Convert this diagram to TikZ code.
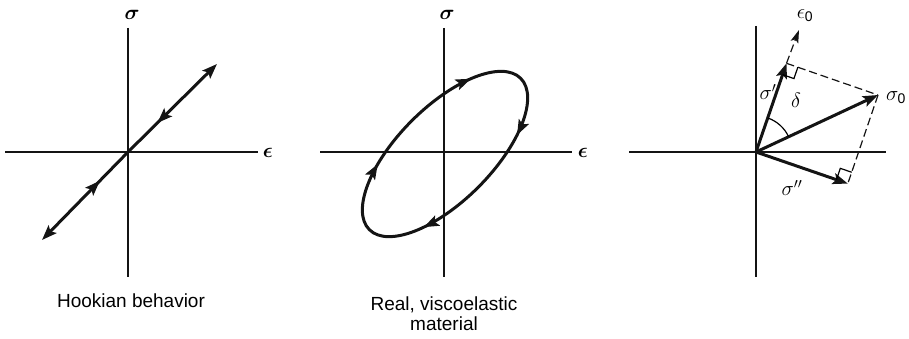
\documentclass[tikz,border=0pt]{standalone}
\usepackage{fontspec}
\setmainfont{Liberation Sans}
\usepackage{amsmath}
\usepackage{tikz}
\usetikzlibrary{arrows.meta, calc, decorations.markings}
\definecolor{inkblack}{RGB}{20,20,20}
\tikzset{
  axis/.style={line width=1.4pt, color=inkblack},
  curve/.style={line width=3pt, color=inkblack},
  vec/.style={line width=3pt, color=inkblack, -{Stealth[length=15pt, width=11pt, inset=3pt]}},
  guide/.style={line width=1.2pt, color=inkblack, dash pattern=on 8pt off 4pt},
  tip/.style={-{Stealth[length=15pt, width=11pt, inset=3pt]}},
  midtip/.style={postaction={decorate}, decoration={markings,
    mark=at position #1 with {\arrow{Stealth[length=15pt, width=11pt, inset=3pt, reversed]}}}},
  looptips/.style={postaction={decorate}, decoration={markings,
    mark=at position 0.12 with {\arrow{Stealth[length=15pt, width=11pt, inset=3pt]}},
    mark=at position 0.385 with {\arrow{Stealth[length=15pt, width=11pt, inset=3pt]}},
    mark=at position 0.64 with {\arrow{Stealth[length=15pt, width=11pt, inset=3pt]}},
    mark=at position 0.895 with {\arrow{Stealth[length=15pt, width=11pt, inset=3pt]}}}},
  sym/.style={inner sep=0pt, font=\fontsize{21}{23}\selectfont},
  capt/.style={inner sep=0pt, align=center, font=\fontsize{19}{20}\selectfont},
}

\begin{document}
\begin{tikzpicture}[x=1pt, y=-1pt]
  \useasboundingbox (0,0) rectangle (909,339);

  % Hookian behavior
  \coordinate (hO) at (128,152);
  \coordinate (hW) at (5,152);
  \coordinate (hE) at (258,152);
  \coordinate (hN) at (128,28);
  \coordinate (hS) at (128,277);
  \coordinate (hHi) at (217,64);
  \coordinate (hLo) at (42,240);
  \draw[axis] (hW) -- (hE);
  \draw[axis] (hN) -- (hS);
  \draw[curve, tip, midtip=0.45] (hO) -- (hHi);
  \draw[curve, tip, midtip=0.45] (hO) -- (hLo);
  \node[sym] (hsig) at (132,15) {$\boldsymbol{\sigma}$};
  \node[sym] (heps) at (268,153) {$\boldsymbol{\epsilon}$};
  \node[capt, anchor=base] (hcap) at (131,307) {Hookian behavior};

  % viscoelastic loop
  \coordinate (vO) at (444,152);
  \coordinate (vW) at (320,152);
  \coordinate (vE) at (572,152);
  \coordinate (vN) at (444,28);
  \coordinate (vS) at (444,277);
  \coordinate (vC) at (445,154);
  \draw[axis] (vW) -- (vE);
  \draw[axis] (vN) -- (vS);
  \draw[curve, looptips, rotate around={45:(vC)}]
    (vC) ellipse [x radius=107, y radius=47];
  \node[sym] (vsig) at (447,15) {$\boldsymbol{\sigma}$};
  \node[sym] (veps) at (583,153) {$\boldsymbol{\epsilon}$};
  \node[capt, anchor=base] (vcap) at (444,330) {Real, viscoelastic\\material};

  % phasor diagram
  \coordinate (pO) at (756,152);
  \coordinate (pW) at (629,152);
  \coordinate (pE) at (886,152);
  \coordinate (pN) at (756,26);
  \coordinate (pS) at (756,277);
  \coordinate (e0) at (799,30);
  \coordinate (s0) at (878,95);
  \coordinate (sp) at (786.5,63.3);
  \coordinate (spp) at (847.8,183.6);
  \draw[axis, line width=1.2pt] (pW) -- (pE);
  \draw[axis, line width=1.2pt] (pN) -- (pS);
  \draw[guide, -{Stealth[length=13pt, width=8pt, inset=3pt]}] (sp) -- (e0);
  \draw[guide] (sp) -- (s0);
  \draw[guide] (s0) -- (spp);
  \draw[vec] (pO) -- (s0);
  \draw[vec] (pO) -- (sp);
  \draw[vec] (pO) -- (spp);
  % right-angle marks
  \coordinate (ra1) at ($(sp)!12pt!(s0)$);
  \coordinate (ra3) at ($(sp)!12pt!(pO)$);
  \draw[line width=1.2pt] (ra1) -- ($(ra1)+(ra3)-(sp)$) -- (ra3);
  \coordinate (rb1) at ($(spp)!12pt!(s0)$);
  \coordinate (rb3) at ($(spp)!12pt!(pO)$);
  \draw[line width=1.2pt] (rb1) -- ($(rb1)+(rb3)-(spp)$) -- (rb3);
  % phase angle
  \draw[line width=1.2pt] ($(pO)+(-25:36)$) arc[start angle=-25, end angle=-71, radius=36];
  \node[sym, font=\fontsize{20}{22}\selectfont] (le0) at (805,16) {$\epsilon_{\text{0}}$};
  \node[sym, font=\fontsize{20}{22}\selectfont] (ls0) at (896,98) {$\sigma_{\text{0}}$};
  \node[sym, font=\fontsize{20}{22}\selectfont] (lsp) at (768,92) {$\sigma'$};
  \node[sym, font=\fontsize{20}{22}\selectfont] (lspp) at (792,188) {$\sigma''$};
  \node[sym, font=\fontsize{20}{22}\selectfont] (ldel) at (796,100) {$\delta$};
\end{tikzpicture}
\end{document}
